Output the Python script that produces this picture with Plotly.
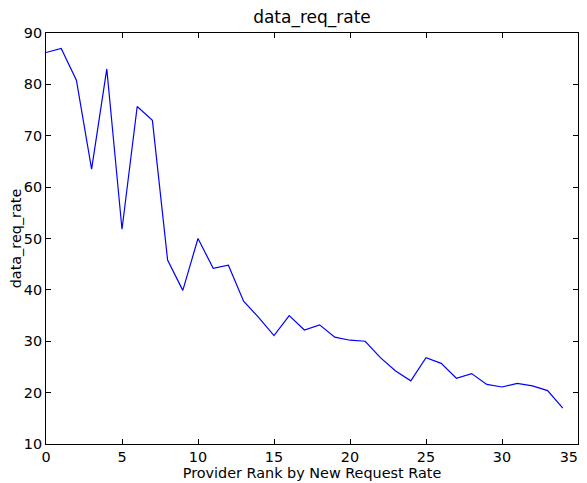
import plotly.graph_objects as go

x_rank = list(range(35))
data_req_rate = [86.2, 87.0, 80.8, 63.5, 83.0, 51.8, 75.7, 73.0, 45.8, 39.9,
                 50.0, 44.2, 44.8, 37.8, 34.6, 31.1, 35.0, 32.2, 33.2, 30.8,
                 30.2, 30.0, 26.8, 24.2, 22.3, 26.8, 25.7, 22.8, 23.7, 21.6,
                 21.1, 21.8, 21.3, 20.4, 17.0]
x_ticks = [0, 5, 10, 15, 20, 25, 30, 35]
x_tick_labels = ["0", "5", "10", "15", "20", "25", "30", "35\u00a0\u00a0\u00a0\u00a0"]
y_ticks = [10, 20, 30, 40, 50, 60, 70, 80, 90]

FONT = "DejaVu Sans"
fig = go.Figure(go.Scatter(x=x_rank, y=data_req_rate, mode="lines",
                           line=dict(color="#0000ff", width=1.2)))

axis_common = dict(showline=True, linecolor="black", linewidth=1, mirror="ticks",
                   ticks="inside", ticklen=5, tickcolor="black", showgrid=False,
                   zeroline=False, automargin=False, ticklabeloverflow="allow",
                   tickfont=dict(family=FONT, size=14.4, color="black"))

# page body has an 8px margin, so the figure is shrunk/offset by 8px
fig.update_layout(
    width=579, height=475,
    margin=dict(l=38, r=9, t=25, b=39),
    paper_bgcolor="white", plot_bgcolor="white",
    showlegend=False,
    title=dict(text="data_req_rate", x=0.5, xref="paper", xanchor="center",
               y=1 - 9.5 / 475, yref="container", yanchor="middle",
               font=dict(family=FONT, size=17, color="black")),
    xaxis=dict(range=[0, 35], tickvals=x_ticks, ticktext=x_tick_labels,
               title=dict(text="Provider Rank by New Request Rate", standoff=0,
                          font=dict(family=FONT, size=14.4, color="black")),
               **axis_common),
    yaxis=dict(range=[10, 90], tickvals=y_ticks, ticktext=[str(v) for v in y_ticks],
               title=dict(text="data_req_rate", standoff=0,
                          font=dict(family=FONT, size=14.4, color="black")),
               **axis_common),
)

fig.write_html("out.html")
